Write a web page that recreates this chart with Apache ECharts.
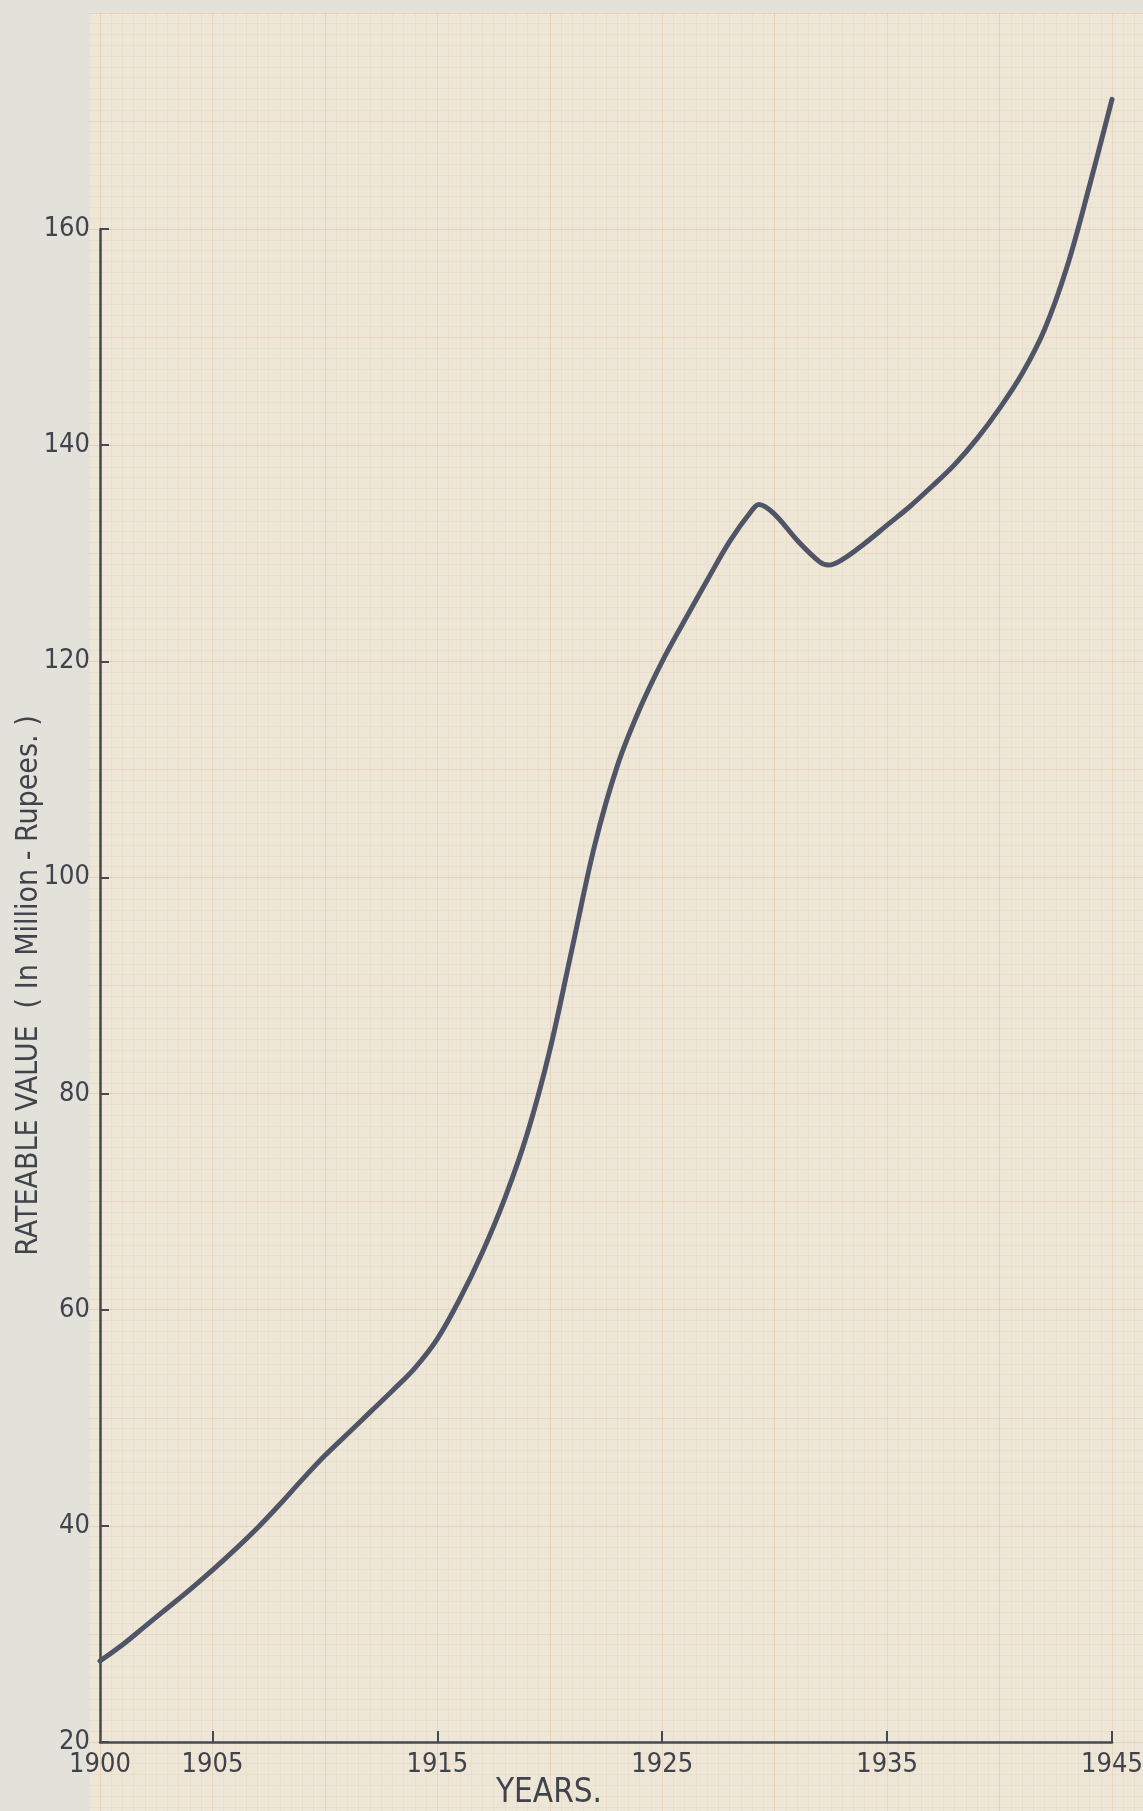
<!DOCTYPE html>
<html>
<head>
<meta charset="utf-8">
<script src="https://cdn.jsdelivr.net/npm/echarts@6/dist/echarts.min.js"></script>
<style>
html,body{margin:0;padding:0;background:#e2e1da;}
#chart{width:1143px;height:1811px;}
</style>
</head>
<body>
<div id="chart"></div>
<script>
// ---- data ----
const years  = [1900,1901,1902,1903,1904,1905,1906,1907,1908,1909,1910,1911,1912,1913,1914,1915,1916,1917,1918,1919,1920,1921,1922,1923,1924,1925,1926,1927,1928,1929,1929.3,1930,1931,1932,1932.4,1933,1934,1935,1936,1937,1938,1939,1940,1941,1942,1943,1944,1945];
const values = [27.5,29.0,30.7,32.4,34.1,35.9,37.8,39.8,42.0,44.3,46.5,48.5,50.5,52.5,54.6,57.3,61.0,65.3,70.3,76.3,84.0,93.5,103.0,110.3,115.6,120.0,123.8,127.5,131.1,134.0,134.5,133.6,131.2,129.2,128.9,129.4,130.9,132.6,134.3,136.2,138.2,140.6,143.4,146.6,150.7,156.5,164.0,172.0];
const xTickYears  = [1900,1905,1915,1925,1935,1945];
const yTickValues = [20,40,60,80,100,120,140,160];
const yAxisTitle = 'RATEABLE VALUE  ( In Million - Rupees. )';
const xAxisTitle = 'YEARS.';

// ---- layout ----
const plotLeft = 100, plotRight = 1112, plotTop = 229, plotBottom = 1742;
const xMin = 1900, xMax = 1945, yMin = 20, yMax = 160;
const pxYear = (plotRight - plotLeft) / (xMax - xMin);
const pxUnit = (plotBottom - plotTop) / (yMax - yMin);
// graph paper extent (in data units, multiples of the minor step)
const paperXMin = 1899.5, paperXMax = 1946.5, paperYMin = 13, paperYMax = 180;
const paperLeft = plotLeft - (xMin - paperXMin) * pxYear;
const paperWidth = (paperXMax - paperXMin) * pxYear;
const paperTop = plotTop - (paperYMax - yMax) * pxUnit;
const paperHeight = (paperYMax - paperYMin) * pxUnit;

const cMinor = 'rgba(210,160,100,0.10)';
const cMid   = 'rgba(210,150,90,0.18)';
const cMajor = 'rgba(210,150,90,0.24)';
function paperColors(majorIdx, midIdx) {
  const arr = [];
  for (let i = 0; i < 20; i++) arr.push(i === majorIdx ? cMajor : (i === midIdx ? cMid : cMinor));
  return arr;
}

const font = "'DejaVu Sans Condensed','Liberation Sans Narrow','DejaVu Sans',sans-serif";
const ink = '#40434b';

const chart = echarts.init(document.getElementById('chart'), null, {renderer: 'canvas'});
chart.setOption({
  animation: false,
  backgroundColor: '#e2e1da',
  grid: [
    {left: plotLeft, top: plotTop, width: plotRight - plotLeft, height: plotBottom - plotTop,
     show: false, containLabel: false, outerBoundsMode: 'none'},
    {left: paperLeft, top: paperTop, width: paperWidth, height: paperHeight, show: true,
     backgroundColor: '#eee7d8', borderWidth: 0, z: 0, containLabel: false, outerBoundsMode: 'none'}
  ],
  xAxis: [
    {type: 'value', gridIndex: 0, min: xMin, max: xMax, interval: 5, z: 3,
     axisLine: {show: true, onZero: false, lineStyle: {color: '#46494f', width: 2.5}},
     axisTick: {show: true, inside: true, length: 11, customValues: xTickYears.slice(1),
                lineStyle: {color: '#46494f', width: 2}},
     axisLabel: {show: true, customValues: xTickYears, margin: 9, color: ink,
                 fontFamily: font, fontSize: 27, formatter: v => String(v)},
     splitLine: {show: false}},
    {type: 'value', gridIndex: 1, min: paperXMin, max: paperXMax, interval: 0.5, z: 0,
     axisLine: {show: false}, axisTick: {show: false}, axisLabel: {show: false},
     splitLine: {show: true, lineStyle: {width: 1, color: paperColors(1, 11)}}}
  ],
  yAxis: [
    {type: 'value', gridIndex: 0, min: yMin, max: yMax, interval: 20, z: 3,
     axisLine: {show: true, onZero: false, lineStyle: {color: '#46494f', width: 2.5}},
     axisTick: {show: true, inside: true, length: 9, lineStyle: {color: '#46494f', width: 2}},
     axisLabel: {show: true, customValues: yTickValues, margin: 10, color: ink, fontFamily: font,
                 fontSize: 27, verticalAlign: 'middle', padding: [0, 0, 14, 0]},
     splitLine: {show: false},
     name: yAxisTitle, nameLocation: 'middle', nameRotate: 90, nameGap: 56, nameMoveOverlap: false,
     nameTextStyle: {color: ink, fontFamily: font, fontSize: 30}},
    {type: 'value', gridIndex: 1, min: paperYMin, max: paperYMax, interval: 1, z: 0,
     axisLine: {show: false}, axisTick: {show: false}, axisLabel: {show: false},
     splitLine: {show: true, lineStyle: {width: 1, color: paperColors(7, 17)}}}
  ],
  graphic: [
    {type: 'text', x: 549, y: 1793, z: 5,
     style: {text: xAxisTitle, fill: ink, font: "33px " + font, align: 'center', verticalAlign: 'middle'}}
  ],
  series: [
    {type: 'line', xAxisIndex: 0, yAxisIndex: 0, z: 4,
     data: years.map((y, i) => [y, values[i]]),
     smooth: 0.35, showSymbol: false, clip: false,
     lineStyle: {color: '#4f5566', width: 5, cap: 'round', join: 'round'}}
  ]
});
</script>
</body>
</html>
